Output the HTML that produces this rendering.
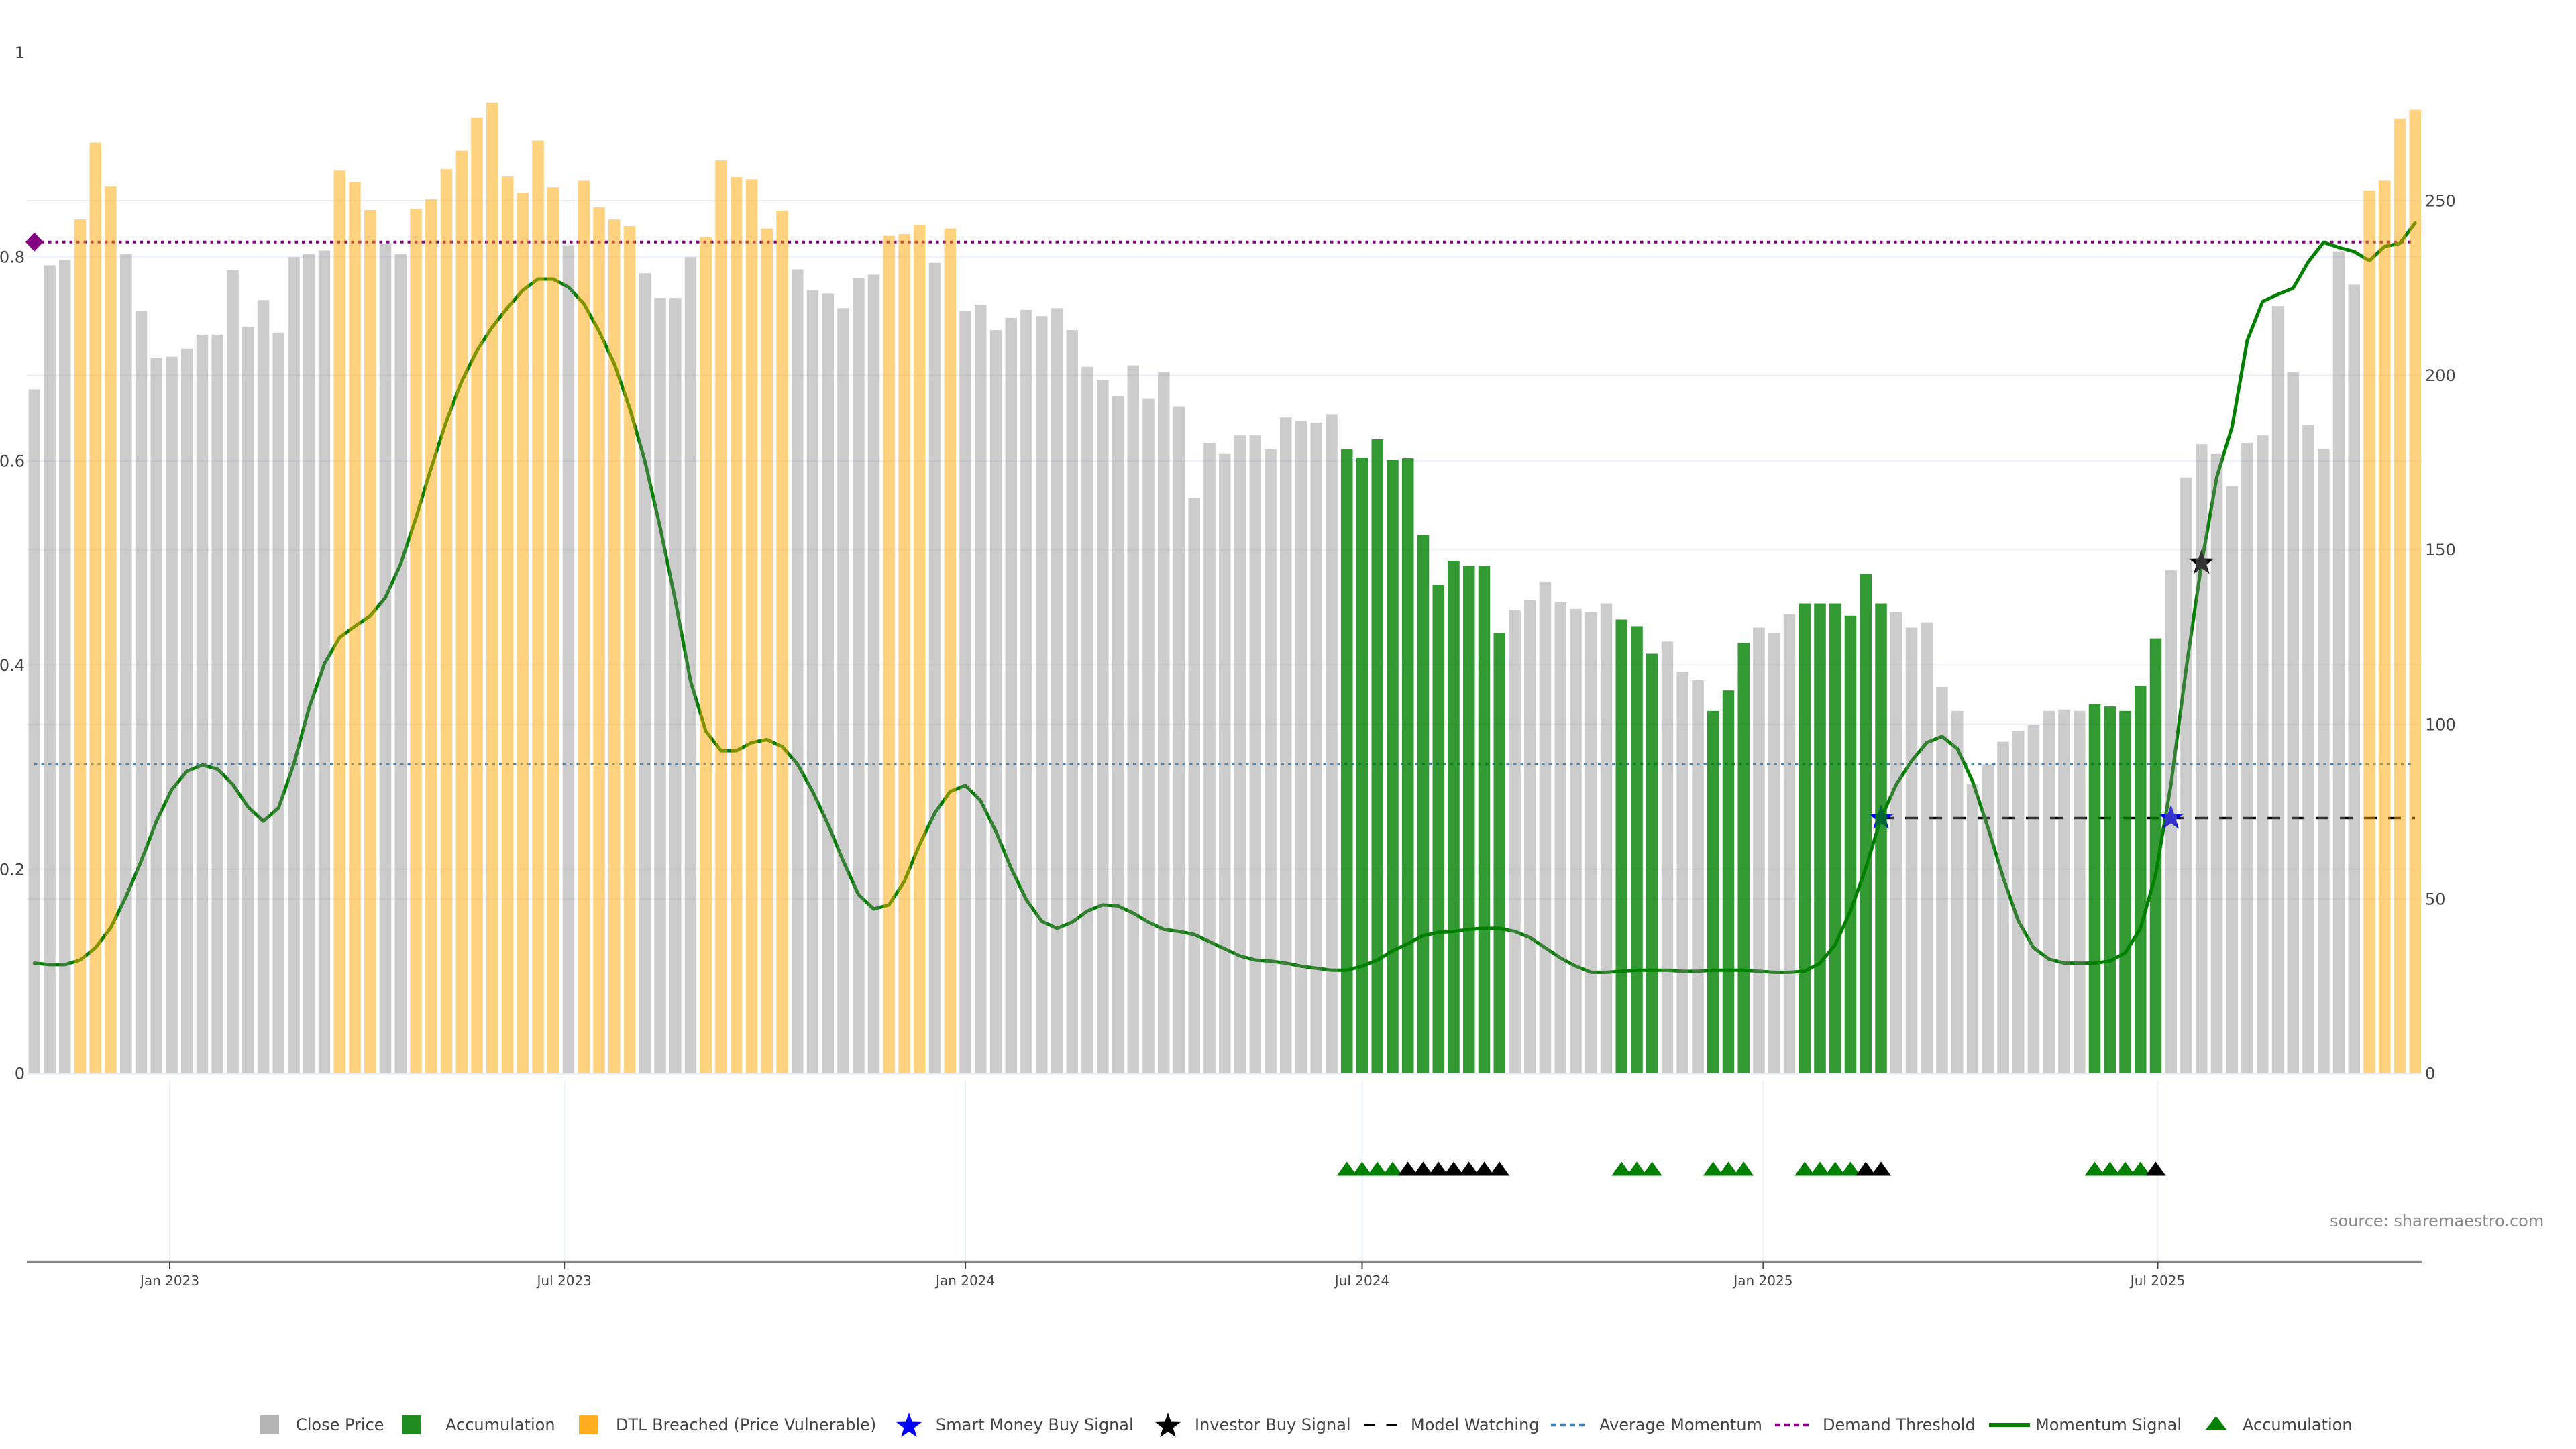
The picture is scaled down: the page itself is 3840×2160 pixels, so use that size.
<!DOCTYPE html>
<html><head><meta charset="utf-8">
<style>
html,body{margin:0;padding:0;background:#fff;}
svg{display:block;}
text{font-family:"DejaVu Sans","Liberation Sans",sans-serif;fill:#444;}
</style></head><body>
<svg xmlns="http://www.w3.org/2000/svg" width="3840" height="2160" viewBox="0 0 3840 2160">
<defs>
<path id="star" d="M0,-20L4.7,-6.47L19.02,-6.18L7.61,2.47L11.76,16.18L0,8L-11.76,16.18L-7.61,2.47L-19.02,-6.18L-4.7,-6.47Z"/>
<path id="tri" d="M-15,10.5L15,10.5L0,-10.5Z"/>
</defs>
<rect width="3840" height="2160" fill="#fff"/>

<!-- horizontal gridlines -->
<g stroke="#EBF0F8" stroke-width="2">
<line x1="40" x2="3610" y1="299" y2="299"/>
<line x1="40" x2="3610" y1="382.6" y2="382.6"/>
<line x1="40" x2="3610" y1="559.2" y2="559.2"/>
<line x1="40" x2="3610" y1="686.9" y2="686.9"/>
<line x1="40" x2="3610" y1="819.4" y2="819.4"/>
<line x1="40" x2="3610" y1="991.3" y2="991.3"/>
<line x1="40" x2="3610" y1="1079.6" y2="1079.6"/>
<line x1="40" x2="3610" y1="1295.6" y2="1295.6"/>
<line x1="40" x2="3610" y1="1339.8" y2="1339.8"/>
<line x1="40" x2="3610" y1="1601" y2="1601"/>
</g>

<!-- threshold lines (under bars) -->
<line x1="51" x2="3600" y1="360.7" y2="360.7" stroke="#800080" stroke-width="4" stroke-dasharray="4.5 6"/>
<line x1="51" x2="3600" y1="1139" y2="1139" stroke="#4682B4" stroke-width="3.5" stroke-dasharray="4.5 6"/>
<line x1="2804" x2="3600" y1="1219.5" y2="1219.5" stroke="#000" stroke-width="3.5" stroke-dasharray="19 17"/>
<polygon points="38,360.7 51.25,346.7 64.5,360.7 51.25,374.7" fill="#800080"/>

<!-- momentum line -->
<polyline transform="translate(51.25,1600) scale(22.75,-1521.8)" vector-effect="non-scaling-stroke" fill="none" stroke="#008000" stroke-width="5" stroke-linejoin="round" stroke-linecap="round"
points="0,.108 1,.1065 2,.1065 3,.111 4,.123 5,.1425 6,.173 7,.208 8,.247 9,.278 10,.296 11,.302 12,.298 13,.283 14,.261 15,.247 16,.260 17,.303 18,.358 19,.401 20,.427 21,.438 22,.448 23,.466 24,.499 25,.544 26,.593 27,.639 28,.678 29,.708 30,.731 31,.750 32,.767 33,.778 34,.778 35,.770 36,.754 37,.727 38,.695 39,.652 40,.600 41,.535 42,.463 43,.384 44,.335 45,.316 46,.316 47,.324 48,.327 49,.320 50,.303 51,.276 52,.244 53,.208 54,.175 55,.161 56,.165 57,.188 58,.224 59,.255 60,.276 61,.282 62,.267 63,.237 64,.201 65,.170 66,.149 67,.142 68,.148 69,.159 70,.165 71,.164 72,.157 73,.148 74,.141 75,.139 76,.136 77,.129 78,.122 79,.115 80,.111 81,.110 82,.108 83,.105 84,.103 85,.101 86,.101 87,.105 88,.111 89,.120 90,.127 91,.135 92,.138 93,.139 94,.141 95,.142 96,.142 97,.139 98,.133 99,.123 100,.113 101,.105 102,.099 103,.099 104,.100 105,.101 106,.101 107,.101 108,.100 109,.100 110,.101 111,.101 112,.101 113,.100 114,.099 115,.099 116,.100 117,.108 118,.126 119,.159 120,.201 121,.250 122,.283 123,.306 124,.324 125,.330 126,.318 127,.286 128,.241 129,.192 130,.149 131,.123 132,.112 133,.108 134,.108 135,.108 136,.110 137,.118 138,.142 139,.195 140,.283 141,.397 142,.499 143,.584 144,.633 145,.718 146,.756 147,.763 148,.769 149,.795 150,.814 151,.809 152,.805 153,.796 154,.810 155,.813 156,.833"/>

<!-- signal stars -->
<use href="#star" x="2804" y="1219.5" fill="#0000ff"/>
<use href="#star" x="3236.25" y="1219.5" fill="#0000ff"/>
<use href="#star" x="3281.75" y="839" fill="#000"/>

<!-- bars -->
<g transform="translate(42.5,1600) scale(22.75,-5.204)">
<g fill="#808080" fill-opacity="0.4">
<rect x="0" width=".77" height="195.9"/><rect x="1" width=".77" height="231.5"/><rect x="2" width=".77" height="233"/>
<rect x="6" width=".77" height="234.7"/><rect x="7" width=".77" height="218.3"/><rect x="8" width=".77" height="204.9"/><rect x="9" width=".77" height="205.3"/><rect x="10" width=".77" height="207.6"/><rect x="11" width=".77" height="211.6"/><rect x="12" width=".77" height="211.6"/><rect x="13" width=".77" height="230.1"/><rect x="14" width=".77" height="213.9"/><rect x="15" width=".77" height="221.5"/><rect x="16" width=".77" height="212.2"/><rect x="17" width=".77" height="233.8"/><rect x="18" width=".77" height="234.7"/><rect x="19" width=".77" height="235.7"/>
<rect x="23" width=".77" height="237.6"/><rect x="24" width=".77" height="234.7"/><rect x="35" width=".77" height="237.2"/>
<rect x="40" width=".77" height="229.2"/><rect x="41" width=".77" height="222.1"/><rect x="42" width=".77" height="222.1"/><rect x="43" width=".77" height="233.8"/>
<rect x="50" width=".77" height="230.3"/><rect x="51" width=".77" height="224.4"/><rect x="52" width=".77" height="223.4"/><rect x="53" width=".77" height="219.2"/><rect x="54" width=".77" height="227.8"/><rect x="55" width=".77" height="228.8"/>
<rect x="59" width=".77" height="232.2"/>
<rect x="61" width=".77" height="218.3"/><rect x="62" width=".77" height="220.2"/><rect x="63" width=".77" height="212.9"/><rect x="64" width=".77" height="216.4"/><rect x="65" width=".77" height="218.7"/><rect x="66" width=".77" height="216.9"/><rect x="67" width=".77" height="219.2"/><rect x="68" width=".77" height="212.9"/><rect x="69" width=".77" height="202.4"/><rect x="70" width=".77" height="198.6"/><rect x="71" width=".77" height="194"/><rect x="72" width=".77" height="202.8"/><rect x="73" width=".77" height="193.2"/><rect x="74" width=".77" height="200.9"/><rect x="75" width=".77" height="191.1"/><rect x="76" width=".77" height="164.8"/><rect x="77" width=".77" height="180.6"/><rect x="78" width=".77" height="177.4"/><rect x="79" width=".77" height="182.7"/><rect x="80" width=".77" height="182.7"/><rect x="81" width=".77" height="178.7"/><rect x="82" width=".77" height="187.9"/><rect x="83" width=".77" height="186.9"/><rect x="84" width=".77" height="186.4"/><rect x="85" width=".77" height="188.8"/>
<rect x="97" width=".77" height="132.6"/><rect x="98" width=".77" height="135.5"/><rect x="99" width=".77" height="140.9"/><rect x="100" width=".77" height="134.9"/><rect x="101" width=".77" height="133"/><rect x="102" width=".77" height="132.1"/><rect x="103" width=".77" height="134.6"/>
<rect x="107" width=".77" height="123.7"/><rect x="108" width=".77" height="115.1"/><rect x="109" width=".77" height="112.6"/>
<rect x="113" width=".77" height="127.7"/><rect x="114" width=".77" height="126.1"/><rect x="115" width=".77" height="131.5"/>
<rect x="122" width=".77" height="132.1"/><rect x="123" width=".77" height="127.7"/><rect x="124" width=".77" height="129.2"/><rect x="125" width=".77" height="110.7"/><rect x="126" width=".77" height="103.8"/><rect x="127" width=".77" height="82.8"/><rect x="128" width=".77" height="88.5"/><rect x="129" width=".77" height="95"/><rect x="130" width=".77" height="98.2"/><rect x="131" width=".77" height="99.8"/><rect x="132" width=".77" height="103.8"/><rect x="133" width=".77" height="104.2"/><rect x="134" width=".77" height="103.8"/>
<rect x="140" width=".77" height="144.1"/><rect x="141" width=".77" height="170.7"/><rect x="142" width=".77" height="180.2"/><rect x="143" width=".77" height="177.4"/><rect x="144" width=".77" height="168.2"/><rect x="145" width=".77" height="180.6"/><rect x="146" width=".77" height="182.7"/><rect x="147" width=".77" height="219.8"/><rect x="148" width=".77" height="200.9"/><rect x="149" width=".77" height="185.8"/><rect x="150" width=".77" height="178.7"/><rect x="151" width=".77" height="235.5"/><rect x="152" width=".77" height="225.9"/>
</g>
<g fill="#FFA500" fill-opacity="0.5">
<rect x="3" width=".77" height="244.6"/><rect x="4" width=".77" height="266.6"/><rect x="5" width=".77" height="254"/>
<rect x="20" width=".77" height="258.6"/><rect x="21" width=".77" height="255.4"/><rect x="22" width=".77" height="247.3"/>
<rect x="25" width=".77" height="247.7"/><rect x="26" width=".77" height="250.4"/><rect x="27" width=".77" height="259"/><rect x="28" width=".77" height="264.3"/><rect x="29" width=".77" height="273.7"/><rect x="30" width=".77" height="278.1"/><rect x="31" width=".77" height="256.9"/><rect x="32" width=".77" height="252.3"/><rect x="33" width=".77" height="267.2"/><rect x="34" width=".77" height="253.8"/>
<rect x="36" width=".77" height="255.7"/><rect x="37" width=".77" height="248.1"/><rect x="38" width=".77" height="244.6"/><rect x="39" width=".77" height="242.7"/>
<rect x="44" width=".77" height="239.5"/><rect x="45" width=".77" height="261.5"/><rect x="46" width=".77" height="256.7"/><rect x="47" width=".77" height="256.1"/><rect x="48" width=".77" height="242"/><rect x="49" width=".77" height="247.1"/>
<rect x="56" width=".77" height="239.9"/><rect x="57" width=".77" height="240.4"/><rect x="58" width=".77" height="242.9"/><rect x="60" width=".77" height="242"/>
<rect x="153" width=".77" height="252.9"/><rect x="154" width=".77" height="255.7"/><rect x="155" width=".77" height="273.5"/><rect x="156" width=".77" height="276"/>
</g>
<g fill="#008000" fill-opacity="0.8">
<rect x="86" width=".77" height="178.7"/><rect x="87" width=".77" height="176.4"/><rect x="88" width=".77" height="181.6"/><rect x="89" width=".77" height="175.8"/><rect x="90" width=".77" height="176.2"/><rect x="91" width=".77" height="154.2"/><rect x="92" width=".77" height="139.9"/><rect x="93" width=".77" height="146.8"/><rect x="94" width=".77" height="145.4"/><rect x="95" width=".77" height="145.4"/><rect x="96" width=".77" height="126.1"/>
<rect x="104" width=".77" height="130"/><rect x="105" width=".77" height="128.1"/><rect x="106" width=".77" height="120.2"/>
<rect x="110" width=".77" height="103.8"/><rect x="111" width=".77" height="109.7"/><rect x="112" width=".77" height="123.3"/>
<rect x="116" width=".77" height="134.6"/><rect x="117" width=".77" height="134.6"/><rect x="118" width=".77" height="134.6"/><rect x="119" width=".77" height="131.1"/><rect x="120" width=".77" height="143"/><rect x="121" width=".77" height="134.6"/>
<rect x="135" width=".77" height="105.7"/><rect x="136" width=".77" height="105.1"/><rect x="137" width=".77" height="103.8"/><rect x="138" width=".77" height="111"/><rect x="139" width=".77" height="124.6"/>
</g>
</g>

<!-- y axis labels -->
<g font-size="24" text-anchor="end">
<text x="37" y="87">1</text>
<text x="37" y="391.3">0.8</text>
<text x="37" y="695.6">0.6</text>
<text x="37" y="1000">0.4</text>
<text x="37" y="1304.3">0.2</text>
<text x="37" y="1608.7">0</text>
</g>
<g font-size="24">
<text x="3615" y="307.7">250</text>
<text x="3615" y="567.9">200</text>
<text x="3615" y="828.1">150</text>
<text x="3615" y="1088.3">100</text>
<text x="3615" y="1348.5">50</text>
<text x="3615" y="1608.7">0</text>
</g>

<!-- lower panel -->
<g stroke="#EBF0F8" stroke-width="2">
<line x1="253" x2="253" y1="1612" y2="1881"/>
<line x1="841.2" x2="841.2" y1="1612" y2="1881"/>
<line x1="1439.1" x2="1439.1" y1="1612" y2="1881"/>
<line x1="2030.5" x2="2030.5" y1="1612" y2="1881"/>
<line x1="2628.4" x2="2628.4" y1="1612" y2="1881"/>
<line x1="3216.5" x2="3216.5" y1="1612" y2="1881"/>
</g>
<g fill="#008000">
<use href="#tri" x="2007.75" y="1742"/><use href="#tri" x="2030.5" y="1742"/><use href="#tri" x="2053.25" y="1742"/><use href="#tri" x="2076" y="1742"/>
<use href="#tri" x="2417.25" y="1742"/><use href="#tri" x="2440" y="1742"/><use href="#tri" x="2462.75" y="1742"/>
<use href="#tri" x="2553.75" y="1742"/><use href="#tri" x="2576.5" y="1742"/><use href="#tri" x="2599.25" y="1742"/>
<use href="#tri" x="2690.25" y="1742"/><use href="#tri" x="2713" y="1742"/><use href="#tri" x="2735.75" y="1742"/><use href="#tri" x="2758.5" y="1742"/>
<use href="#tri" x="3122.5" y="1742"/><use href="#tri" x="3145.25" y="1742"/><use href="#tri" x="3168" y="1742"/><use href="#tri" x="3190.75" y="1742"/>
</g>
<g fill="#000">
<use href="#tri" x="2098.75" y="1742"/><use href="#tri" x="2121.5" y="1742"/><use href="#tri" x="2144.25" y="1742"/><use href="#tri" x="2167" y="1742"/><use href="#tri" x="2189.75" y="1742"/><use href="#tri" x="2212.5" y="1742"/><use href="#tri" x="2235.25" y="1742"/>
<use href="#tri" x="2781.25" y="1742"/><use href="#tri" x="2804" y="1742"/>
<use href="#tri" x="3213.5" y="1742"/>
</g>
<text x="3473" y="1828" font-size="24" style="fill:#888">source: sharemaestro.com</text>

<line x1="40" x2="3610" y1="1881" y2="1881" stroke="#8a8a8a" stroke-width="2.5"/>
<g stroke="#444" stroke-width="2">
<line x1="253" x2="253" y1="1881" y2="1892"/>
<line x1="841.2" x2="841.2" y1="1881" y2="1892"/>
<line x1="1439.1" x2="1439.1" y1="1881" y2="1892"/>
<line x1="2030.5" x2="2030.5" y1="1881" y2="1892"/>
<line x1="2628.4" x2="2628.4" y1="1881" y2="1892"/>
<line x1="3216.5" x2="3216.5" y1="1881" y2="1892"/>
</g>
<g font-size="20" text-anchor="middle">
<text x="253" y="1916">Jan 2023</text>
<text x="841.2" y="1916">Jul 2023</text>
<text x="1439.1" y="1916">Jan 2024</text>
<text x="2030.5" y="1916">Jul 2024</text>
<text x="2628.4" y="1916">Jan 2025</text>
<text x="3216.5" y="1916">Jul 2025</text>
</g>

<!-- legend -->
<rect x="388" y="2110" width="28" height="28" fill="#b4b4b4"/>
<rect x="600" y="2110" width="28" height="28" fill="#1e8c1e"/>
<rect x="863" y="2110" width="28" height="28" fill="#ffae1f"/>
<use href="#star" x="1355" y="2126" fill="#0000ff"/>
<use href="#star" x="1741" y="2126" fill="#000"/>
<line x1="2033" x2="2085" y1="2124" y2="2124" stroke="#000" stroke-width="4" stroke-dasharray="16.5 17"/>
<line x1="2312" x2="2368" y1="2124" y2="2124" stroke="#3f7fab" stroke-width="4.5" stroke-dasharray="8 6"/>
<line x1="2646" x2="2702" y1="2124" y2="2124" stroke="#800080" stroke-width="4.5" stroke-dasharray="8 6"/>
<line x1="2965" x2="3026" y1="2124" y2="2124" stroke="#008000" stroke-width="6"/>
<polygon points="3287,2132 3320,2132 3303.5,2111" fill="#008000"/>
<g font-size="24">
<text x="441" y="2132">Close Price</text>
<text x="664" y="2132">Accumulation</text>
<text x="918" y="2132">DTL Breached (Price Vulnerable)</text>
<text x="1395" y="2132">Smart Money Buy Signal</text>
<text x="1781" y="2132">Investor Buy Signal</text>
<text x="2103" y="2132">Model Watching</text>
<text x="2384" y="2132">Average Momentum</text>
<text x="2717" y="2132">Demand Threshold</text>
<text x="3034" y="2132">Momentum Signal</text>
<text x="3343" y="2132">Accumulation</text>
</g>
</svg>
</body></html>
